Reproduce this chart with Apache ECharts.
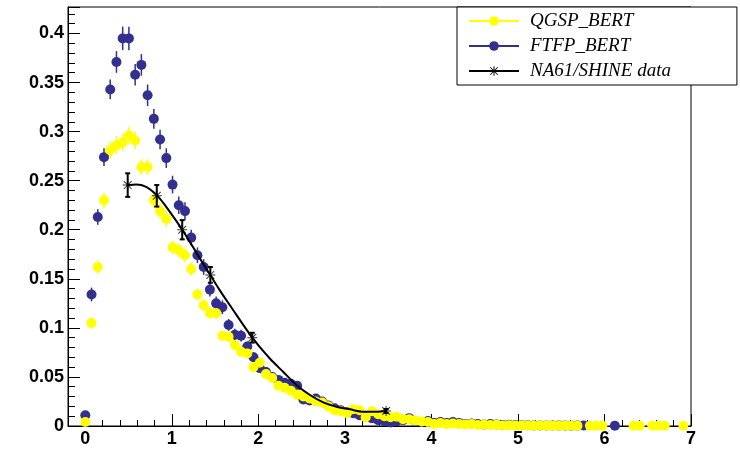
<!DOCTYPE html>
<html>
<head>
<meta charset="utf-8">
<script src="https://cdn.jsdelivr.net/npm/echarts@6/dist/echarts.min.js"></script>
<style>
  html, body { margin: 0; padding: 0; background: #fff; }
  #chart { width: 740px; height: 451px; }
</style>
</head>
<body>
<div id="chart"></div>
<script>
// ==============================
// data
// ==============================

const binX = [
  0, 0.072, 0.144, 0.216, 0.288, 0.36, 0.432, 0.504, 0.576, 0.648,
  0.72, 0.792, 0.864, 0.936, 1.008, 1.08, 1.152, 1.224, 1.296, 1.368,
  1.44, 1.512, 1.584, 1.656, 1.728, 1.8, 1.872, 1.944, 2.016, 2.088,
  2.16, 2.232, 2.304, 2.376, 2.448, 2.52, 2.592, 2.664, 2.736, 2.808,
  2.88, 2.952, 3.024, 3.096, 3.168, 3.24, 3.312, 3.384, 3.456, 3.528,
  3.6, 3.672, 3.744, 3.816, 3.888, 3.96, 4.032, 4.104, 4.176, 4.248,
  4.32, 4.392, 4.464, 4.536, 4.608, 4.68, 4.752, 4.824, 4.896, 4.968,
  5.04, 5.112, 5.184, 5.256, 5.328, 5.4, 5.472, 5.544, 5.616, 5.688,
  5.76, 5.832, 5.904, 5.976, 6.048, 6.12, 6.192, 6.264, 6.336, 6.408,
  6.48, 6.552, 6.624, 6.696, 6.768, 6.84, 6.912
];

const qgspY = [
  0.004, 0.105, 0.162, 0.230, 0.281, 0.286, 0.289, 0.296, 0.291, 0.264,
  0.264, 0.230, 0.219, 0.211, 0.182, 0.179, 0.174, 0.160, 0.134, 0.123,
  0.115, 0.115, 0.092, 0.091, 0.0825, 0.0757, 0.074, 0.060, 0.0645, 0.053,
  0.049, 0.041, 0.039, 0.036, 0.032, 0.030, 0.028, 0.025, 0.024, 0.020,
  0.016, 0.015, 0.013, 0.017, 0.016, 0.009, 0.015, 0.012, 0.010, 0.009,
  0.0095, 0.007, 0.0068, 0.0055, 0.0045, 0.004, 0.002, 0.003, 0.002, 0.0025,
  0.002, 0.0015, 0.002, 0.001, 0.0015, 0.001, 0.0012, 0.0006, 0.0008, 0.0005,
  0.0006, 0.0005, 0.0004, 0.0005, 0.0004, 0.0004, 0.0003, 0.0004, 0.0003, 0.0003,
  null, 0.0003, 0.0003, 0.0003, null, null, null, null, 0.0003, 0.0003,
  null, 0.0003, 0.0003, 0.0003, null, null, 0.0003
];

const qgspErr = [
  0.002, 0.006, 0.007, 0.008, 0.009, 0.009, 0.009, 0.009, 0.009, 0.008,
  0.008, 0.008, 0.008, 0.008, 0.007, 0.007, 0.007, 0.007, 0.006, 0.006,
  0.006, 0.006, 0.005, 0.005, 0.005, 0.005, 0.005, 0.004, 0.004, 0.004,
  0.004, 0.004, 0.003, 0.003, 0.003, 0.003, 0.003, 0.003, 0.003, 0.002
];

const ftfpY = [
  0.011, 0.134, 0.213, 0.274, 0.343, 0.371, 0.395, 0.395, 0.358, 0.368,
  0.337, 0.313, 0.292, 0.273, 0.246, 0.225, 0.219, 0.192, 0.174, 0.162,
  0.139, 0.125, 0.121, 0.103, 0.093, 0.092, 0.081, 0.070, 0.059, 0.055,
  0.050, 0.047, 0.044, 0.043, 0.041, 0.027, 0.026, 0.028, 0.025, 0.021,
  0.018, 0.016, 0.014, 0.013, 0.011, 0.010, 0.008, 0.006, 0.005, 0.0035,
  0.005, 0.006, 0.008, 0.005, 0.004, 0.005, 0.003, 0.004, 0.003, 0.004,
  0.003, 0.002, 0.0025, 0.002, 0.0015, 0.002, 0.0015, 0.001, 0.0012, 0.001,
  0.0008, 0.0007, 0.0006, 0.0006, 0.0005, 0.0005, 0.0004, 0.0004, 0.0003, 0.0004,
  0.0005, null, null, null, null, 0.0003, null, null, null, null,
  null, null, null, null, null, null, null
];

const ftfpErr = [
  0.003, 0.007, 0.008, 0.009, 0.010, 0.011, 0.012, 0.012, 0.011, 0.011,
  0.011, 0.010, 0.010, 0.010, 0.009, 0.009, 0.009, 0.008, 0.008, 0.008,
  0.007, 0.007, 0.007, 0.006, 0.006, 0.006, 0.005, 0.005, 0.005, 0.005,
  0.005, 0.004, 0.004, 0.004, 0.004, 0.003, 0.003, 0.003, 0.003, 0.003
];

// NA61/SHINE measured points
const dataX = [0.49, 0.826, 1.12, 1.445, 1.93, 3.476];
const dataY = [0.2455, 0.2346, 0.200, 0.154, 0.090, 0.0153];
const dataErr = [0.012, 0.011, 0.0098, 0.008, 0.005, 0.002];

// curve drawn through the data
const curveX = [0.49, 0.587, 0.703, 0.826, 0.935, 1.031, 1.12, 1.243, 1.36, 1.445,
  1.553, 1.669, 1.93, 2.13, 2.286, 2.44, 2.596, 2.75, 2.905, 3.06, 3.213, 3.368, 3.476];
const curveY = [0.2455, 0.2462, 0.2438, 0.2353, 0.2234, 0.2116, 0.200, 0.1826, 0.1657, 0.1538,
  0.1385, 0.1233, 0.090, 0.069, 0.0553, 0.0418, 0.0316, 0.0241, 0.0197, 0.017, 0.0146, 0.0146, 0.0153];

const xMajorTicks = [0, 1, 2, 3, 4, 5, 6, 7];

const colorQgsp = '#ffff00';
const colorFtfp = '#322f8f';

// ==============================
// helpers
// ==============================

// asterisk marker (+ and x)
const starPath = 'path://M9 0H11V20H9Z M0 9H20V11H0Z M1.5 2.9L2.9 1.5L18.5 17.1L17.1 18.5Z M17.1 1.5L18.5 2.9L2.9 18.5L1.5 17.1Z';

function pairs(xs, ys) {
  return xs.map((x, i) => (ys[i] == null ? null : [x, ys[i]])).filter(p => p);
}

function errorBars(name, xs, ys, errs, color, width, cap) {
  const data = [];
  xs.forEach((x, i) => {
    const e = errs[i] || 0;
    if (ys[i] == null || !e) return;
    data.push([x, ys[i] - e, ys[i] + e]);
  });
  return {
    name,
    type: 'custom',
    silent: true,
    xAxisIndex: 0,
    encode: { x: 0, y: [1, 2] },
    renderItem: (params, api) => {
      const lo = api.coord([api.value(0), api.value(1)]);
      const hi = api.coord([api.value(0), api.value(2)]);
      const st = { stroke: color, lineWidth: width };
      const children = [{ type: 'line', shape: { x1: lo[0], y1: lo[1], x2: hi[0], y2: hi[1] }, style: st }];
      if (cap) {
        children.push({ type: 'line', shape: { x1: lo[0] - cap, y1: lo[1], x2: lo[0] + cap, y2: lo[1] }, style: st });
        children.push({ type: 'line', shape: { x1: hi[0] - cap, y1: hi[1], x2: hi[0] + cap, y2: hi[1] }, style: st });
      }
      return { type: 'group', children };
    },
    data
  };
}

function mcSeries(name, ys, color) {
  return {
    name,
    type: 'line',
    xAxisIndex: 0,
    data: pairs(binX, ys),
    symbol: 'circle',
    symbolSize: 10,
    connectNulls: false,
    itemStyle: { color },
    lineStyle: { color, width: 1.5, opacity: 0 }
  };
}

// ==============================
// chart
// ==============================

const chart = echarts.init(document.getElementById('chart'));

const labelFont = {
  color: '#000',
  fontSize: 18,
  fontWeight: 'bold',
  fontFamily: 'Liberation Sans'
};

const tickLine = { color: '#000', width: 1 };

chart.setOption({
  animation: false,
  backgroundColor: '#fff',
  grid: {
    left: 68, right: 49, top: 7, bottom: 25,
    show: true,
    borderColor: '#000',
    borderWidth: 1
  },
  legend: {
    orient: 'vertical',
    left: 457,
    top: 7,
    selectedMode: false,
    data: [
      { name: 'QGSP_BERT', lineStyle: { opacity: 1 } },
      { name: 'FTFP_BERT', lineStyle: { opacity: 1 } },
      { name: 'NA61/SHINE data' }
    ],
    itemWidth: 50,
    itemHeight: 12,
    itemGap: 5,
    padding: [4, 66, 4, 11],
    backgroundColor: '#fff',
    borderColor: '#000',
    borderWidth: 1,
    borderRadius: 0,
    z: 10,
    textStyle: {
      color: '#000',
      fontFamily: 'Liberation Serif',
      fontStyle: 'italic',
      fontSize: 19,
      lineHeight: 20,
      padding: [0, 0, 0, 6]
    }
  },
  xAxis: [
    {
      type: 'value',
      min: -0.2,
      max: 7,
      axisLine: { show: true, onZero: false, lineStyle: tickLine },
      axisTick: { show: true, inside: true, length: 12, customValues: xMajorTicks, lineStyle: tickLine },
      axisLabel: Object.assign({ customValues: xMajorTicks, margin: 4 }, labelFont),
      splitLine: { show: false }
    },
    {
      type: 'value',
      min: -0.2,
      max: 7,
      interval: 0.2,
      position: 'bottom',
      axisLine: { show: false, onZero: false },
      axisTick: { show: true, inside: true, length: 6, lineStyle: tickLine },
      axisLabel: { show: false },
      splitLine: { show: false }
    }
  ],
  yAxis: {
    type: 'value',
    min: 0,
    max: 0.427,
    interval: 0.05,
    position: 'left',
    axisLine: { show: true, onZero: false, lineStyle: tickLine },
    axisTick: { show: true, inside: true, length: 12, lineStyle: tickLine },
    minorTick: { show: true, splitNumber: 5, length: 7, lineStyle: tickLine },
    axisLabel: Object.assign({
      margin: 4,
      showMaxLabel: false,
      formatter: v => String(+v.toFixed(3))
    }, labelFont),
    splitLine: { show: false }
  },
  series: [
    errorBars('ftfp err', binX, ftfpY, ftfpErr, colorFtfp, 1.5, 0),
    mcSeries('FTFP_BERT', ftfpY, colorFtfp),
    errorBars('qgsp err', binX, qgspY, qgspErr, colorQgsp, 1.5, 0),
    mcSeries('QGSP_BERT', qgspY, colorQgsp),
    {
      name: 'NA61/SHINE data',
      type: 'line',
      xAxisIndex: 0,
      data: pairs(curveX, curveY),
      smooth: 0.3,
      symbol: starPath,
      showSymbol: false,
      itemStyle: { color: '#000' },
      lineStyle: { color: '#000', width: 2 },
      z: 5
    },
    Object.assign(errorBars('data err', dataX, dataY, dataErr, '#000', 2, 2.5), { z: 6 }),
    {
      name: 'data points',
      type: 'scatter',
      xAxisIndex: 0,
      data: pairs(dataX, dataY),
      symbol: starPath,
      symbolSize: 10,
      itemStyle: { color: '#000' },
      z: 6
    }
  ]
});
</script>
</body>
</html>
